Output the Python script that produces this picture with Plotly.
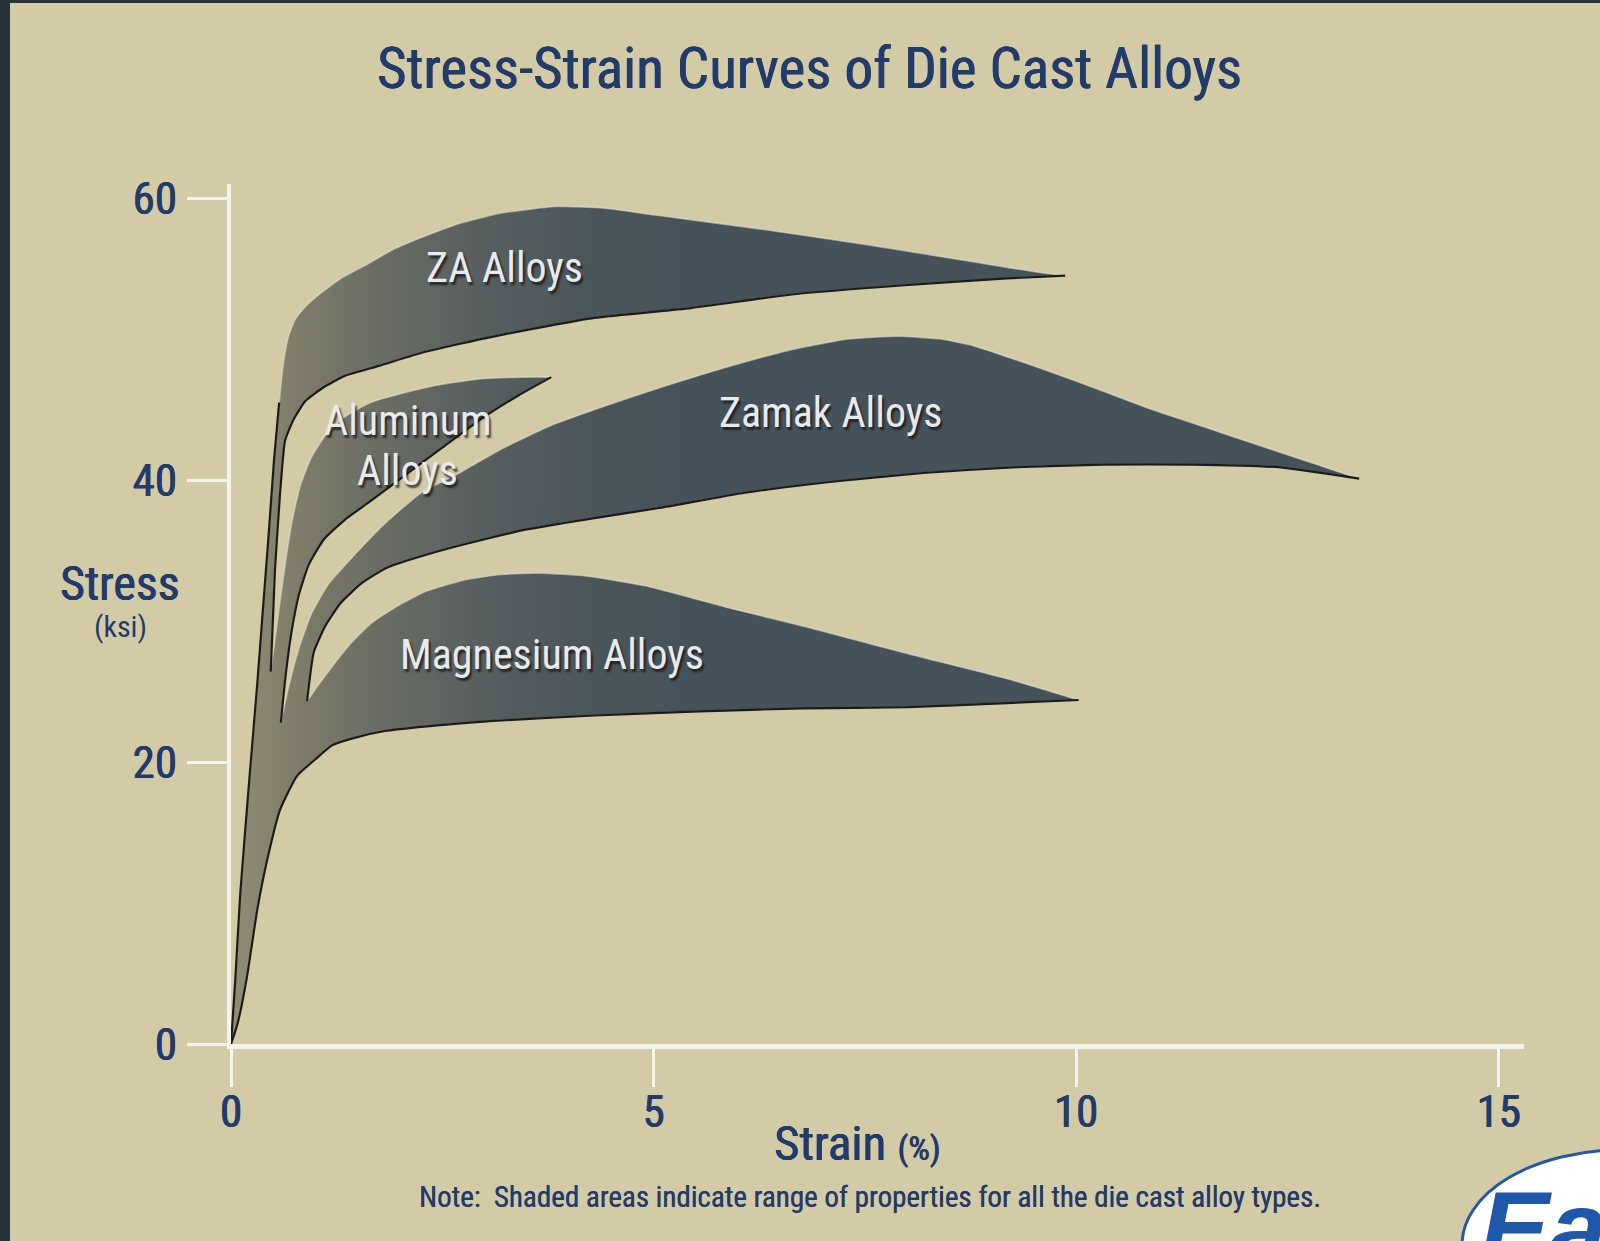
import plotly.graph_objects as go

# ---------------- data (strain %, stress ksi) ----------------
za_upper_x = [0, 0.05, 0.11, 0.22, 0.31, 0.38, 0.45, 0.51, 0.57, 0.62, 0.68, 0.76, 0.88, 1.05, 1.30, 1.61, 1.90, 2.25, 2.65, 3.16, 3.84, 4.40, 5.02, 6.27, 7.52, 8.76, 9.59, 9.87]
za_upper_y = [0, 4.5, 10.7, 19.0, 25.5, 31.0, 36.5, 41.5, 45.5, 48.3, 50.2, 51.4, 52.3, 53.2, 54.3, 55.3, 56.3, 57.2, 58.1, 58.9, 59.4, 59.3, 58.8, 57.8, 56.7, 55.5, 54.7, 54.5]
za_lower_x = [9.87, 9.18, 7.93, 6.69, 5.44, 4.30, 3.20, 2.30, 1.75, 1.35, 1.10, 0.88, 0.74, 0.64, 0.58, 0.52, 0.47]
za_lower_y = [54.5, 54.3, 53.8, 53.2, 52.2, 51.5, 50.3, 49.1, 48.1, 47.4, 46.6, 45.6, 44.3, 42.8, 39.0, 33.6, 26.4]

al_upper_x = [0.47, 0.56, 0.64, 0.72, 0.82, 0.95, 1.12, 1.35, 1.65, 2.05, 2.50, 3.00, 3.45, 3.79]
al_upper_y = [26.4, 30.5, 34.0, 37.0, 39.6, 41.6, 43.2, 44.5, 45.5, 46.2, 46.8, 47.2, 47.3, 47.3]
al_lower_x = [3.79, 3.40, 3.00, 2.50, 2.05, 1.65, 1.35, 1.10, 0.92, 0.80, 0.71, 0.64, 0.59]
al_lower_y = [47.3, 46.0, 44.5, 42.3, 40.3, 38.5, 37.2, 35.8, 34.0, 31.8, 29.0, 25.8, 22.8]

zamak_upper_x = [0.59, 0.68, 0.80, 0.95, 1.15, 1.40, 1.80, 2.25, 2.70, 3.20, 3.80, 4.40, 5.10, 5.80, 6.60, 7.30, 7.90, 8.40, 8.80, 9.40, 10.10, 10.90, 11.70, 12.50, 13.35]
zamak_upper_y = [22.8, 25.3, 28.0, 30.5, 32.6, 34.3, 36.8, 39.1, 40.5, 42.2, 43.9, 45.2, 46.6, 47.9, 49.2, 50.0, 50.2, 50.0, 49.5, 48.3, 46.8, 45.0, 43.4, 41.8, 40.1]
zamak_lower_x = [13.35, 12.42, 11.37, 10.32, 9.25, 8.19, 7.14, 6.08, 5.05, 4.30, 3.50, 2.80, 2.25, 1.85, 1.55, 1.30, 1.12, 0.98, 0.90]
zamak_lower_y = [40.1, 40.9, 41.1, 41.1, 40.9, 40.5, 39.9, 39.1, 38.0, 37.3, 36.5, 35.5, 34.6, 33.8, 32.7, 31.3, 29.7, 27.8, 24.3]

mg_upper_x = [0.90, 1.05, 1.20, 1.40, 1.65, 1.95, 2.30, 2.75, 3.20, 3.65, 4.20, 4.90, 5.85, 6.80, 8.00, 9.25, 10.03]
mg_upper_y = [24.3, 25.6, 26.8, 28.3, 29.8, 31.0, 32.1, 32.9, 33.3, 33.4, 33.2, 32.5, 31.0, 29.6, 27.7, 25.8, 24.4]
mg_lower_x = [10.03, 9.25, 8.01, 6.77, 5.54, 4.30, 3.06, 2.44, 1.82, 1.45, 1.20, 1.00, 0.78, 0.58, 0.43, 0.31, 0.19, 0.08, 0]
mg_lower_y = [24.4, 24.2, 23.9, 23.8, 23.6, 23.3, 22.9, 22.6, 22.2, 21.7, 21.2, 20.2, 19.0, 16.6, 13.1, 9.5, 4.8, 1.5, 0]

alloy_labels = ["ZA Alloys", "Aluminum", "Alloys", "Zamak Alloys", "Magnesium Alloys"]
label_x = [3.24, 2.09, 2.09, 7.09, 3.80]
label_y = [55.1, 44.2, 40.7, 44.8, 27.6]

x_ticks = [0, 5, 10, 15]
y_ticks = [0, 20, 40, 60]

# ---------------- layout constants ----------------
W, H = 1600, 1241
ML, MR, MT, MB = 231, 76, 184, 197
PW, PH = W - ML - MR, H - MT - MB
FONT = "Liberation Sans Narrow, Arial Narrow, Roboto Condensed, Liberation Sans, Arial, sans-serif"
NAVY = "#233b6b"
BG = "#d3cba6"
THICK = "0.5px 0 0 #233b6b, -0.3px 0 0 #233b6b"

def px(xp):
    return (xp - ML) / PW

def py(yp):
    return (H - MB - yp) / PH

outline_x = za_upper_x + za_lower_x + al_upper_x + al_lower_x + zamak_upper_x + zamak_lower_x + mg_upper_x + mg_lower_x
outline_y = za_upper_y + za_lower_y + al_upper_y + al_lower_y + zamak_upper_y + zamak_lower_y + mg_upper_y + mg_lower_y

fig = go.Figure()

fig.add_trace(go.Scatter(
    x=outline_x, y=outline_y, mode="lines", fill="toself",
    line=dict(width=1.6, color="rgba(228,228,215,0.55)", shape="spline", smoothing=0.5),
    fillgradient=dict(type="horizontal", start=0, stop=5.5,
                      colorscale=[[0, "#918e75"], [0.12, "#817f6b"], [0.3, "#6b6e64"],
                                  [0.55, "#565e5e"], [0.8, "#4a555a"], [1, "#46525a"]]),
    hoverinfo="skip", showlegend=False))

# dark shadow lines along lower edges and left stem
for lx, ly in [(za_lower_x, za_lower_y), (al_lower_x, al_lower_y),
               (zamak_lower_x, zamak_lower_y), (mg_lower_x, mg_lower_y),
               (za_upper_x[:9], za_upper_y[:9])]:
    fig.add_trace(go.Scatter(x=lx, y=ly, mode="lines",
                             line=dict(color="#1b1b18", width=2.2, shape="spline", smoothing=0.5),
                             hoverinfo="skip", showlegend=False))

for t, xx, yy in zip(alloy_labels, label_x, label_y):
    fig.add_annotation(x=xx, y=yy, xref="x", yref="y", text=t, showarrow=False,
                       font=dict(family=FONT, size=42, color="#e8eaee",
                                 shadow="2px 3px 2px rgba(20,20,20,0.75)"),
                       align="center")

# texts
fig.add_annotation(x=px(809), y=py(68), xref="paper", yref="paper", showarrow=False,
                   text="Stress-Strain Curves of Die Cast Alloys",
                   font=dict(family=FONT, size=57, color=NAVY, shadow=THICK),
                   xanchor="center", yanchor="middle")
fig.add_annotation(x=px(120), y=py(583), xref="paper", yref="paper", showarrow=False,
                   text="Stress", font=dict(family=FONT, size=48, color=NAVY, shadow=THICK),
                   xanchor="center", yanchor="middle")
fig.add_annotation(x=px(120), y=py(626), xref="paper", yref="paper", showarrow=False,
                   text="(ksi)", font=dict(family=FONT, size=30, color=NAVY),
                   xanchor="center", yanchor="middle")
fig.add_annotation(x=px(857), y=py(1143), xref="paper", yref="paper", showarrow=False,
                   text="Strain <span style='font-size:34px'>(%)</span>",
                   font=dict(family=FONT, size=49, color=NAVY, shadow=THICK),
                   xanchor="center", yanchor="middle")
fig.add_annotation(x=px(870), y=py(1197), xref="paper", yref="paper", showarrow=False,
                   text="Note:  Shaded areas indicate range of properties for all the die cast alloy types.",
                   font=dict(family=FONT, size=29, color=NAVY, shadow="0.3px 0 0 #233b6b"),
                   xanchor="center", yanchor="middle")

# decorative frame strips and logo fragment
fig.add_shape(type="rect", xref="paper", yref="paper", x0=px(-5), x1=px(10), y0=py(H + 5), y1=py(-5),
              fillcolor="#28323b", line_width=0, layer="below")
fig.add_shape(type="rect", xref="paper", yref="paper", x0=px(-5), x1=px(W + 5), y0=py(3), y1=py(-5),
              fillcolor="#28323b", line_width=0, layer="below")
fig.add_shape(type="circle", xref="paper", yref="paper", x0=px(1462), x1=px(1780), y0=py(1340), y1=py(1150),
              fillcolor="white", line=dict(color="#2458a6", width=3))
fig.add_annotation(x=px(1478), y=py(1168), xref="paper", yref="paper", showarrow=False,
                   text="<b><i>Ea</i></b>", font=dict(family="Liberation Sans, Arial", size=104, color="#1f58a8"),
                   xanchor="left", yanchor="top")

axis_common = dict(showgrid=False, zeroline=False, showline=True, linecolor="#f3f3ef",
                   ticks="outside", tickcolor="#f3f3ef", tickwidth=3, fixedrange=True)

fig.update_layout(
    width=W, height=H,
    margin=dict(l=ML, r=MR, t=MT, b=MB, autoexpand=False),
    paper_bgcolor=BG, plot_bgcolor=BG,
    xaxis=dict(range=[0, 15.3], tickvals=x_ticks, ticktext=[str(v) for v in x_ticks],
               linewidth=5, ticklen=38, ticklabelstandoff=-14,
               tickfont=dict(family=FONT, size=45, color=NAVY, shadow=THICK), **axis_common),
    yaxis=dict(range=[0, 61], tickvals=y_ticks, ticktext=[str(v) for v in y_ticks],
               linewidth=4, ticklen=40, ticklabelstandoff=1,
               tickfont=dict(family=FONT, size=45, color=NAVY, shadow=THICK), **axis_common),
    showlegend=False,
)

fig.write_html("out.html", config={"displayModeBar": False},
               post_script="document.body.style.margin='0';document.body.style.overflow='hidden';"
                           "document.documentElement.style.overflow='hidden';")
